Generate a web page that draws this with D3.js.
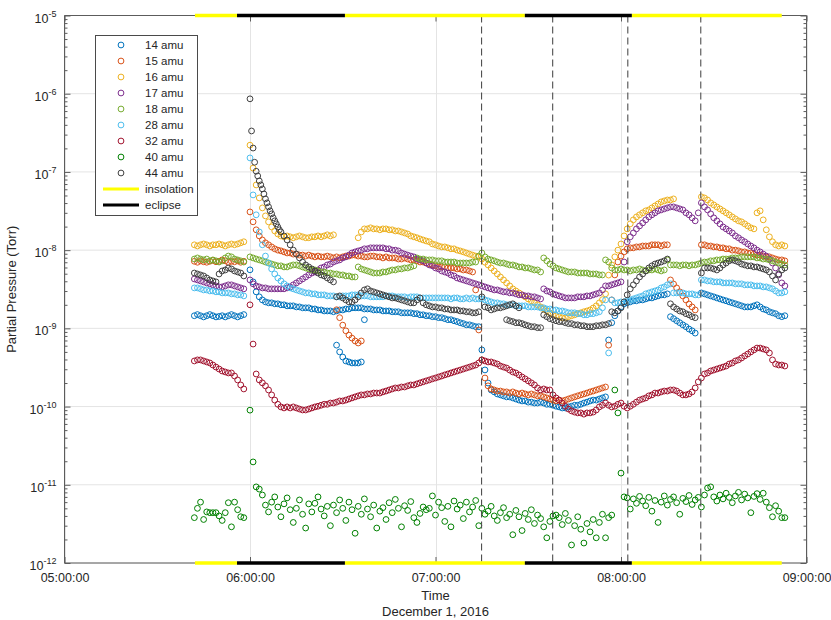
<!DOCTYPE html>
<html>
<head>
<meta charset="utf-8">
<script src="https://cdn.jsdelivr.net/npm/d3@7"></script>
<style>
  html, body { margin: 0; padding: 0; background: #ffffff; }
  svg text { font-family: "Liberation Sans", Arial, Helvetica, sans-serif; fill: #262626; }
</style>
</head>
<body>
<svg id="chart" width="831" height="620"></svg>
<script>
// ---------------- data ----------------
const chartDate = "2016-12-01";
const axisStart = "05:00";
const axisEnd = "09:00";
const hourTicks = ["05:00", "06:00", "07:00", "08:00", "09:00"];
const decadeTicks = [1e-12, 1e-11, 1e-10, 1e-9, 1e-8, 1e-7, 1e-6, 1e-5];
const decadeExponents = ["-12", "-11", "-10", "-9", "-8", "-7", "-6", "-5"];
const seriesNames = ["14 amu", "15 amu", "16 amu", "17 amu", "18 amu", "28 amu", "32 amu", "40 amu", "44 amu"];

// sun / shadow intervals of the orbit
const insolation = [["05:42:12", "05:55:48"], ["06:30:42", "07:28:54"], ["08:03:30", "08:52:00"]];
const eclipse = [["05:55:48", "06:30:42"], ["07:28:54", "08:03:30"]];
// marked events
const eventTimes = ["07:14:54", "07:37:54", "08:02:12", "08:25:48"];

// Each series is a list of sampled runs: start time, sample step (minutes, default 1), pressures in Torr.
const amu14 = [
  {start: "05:42", values: [1.45e-9,1.5e-9,1.45e-9,1.4e-9,1.45e-9,1.5e-9,1.45e-9,1.4e-9,1.42e-9,1.45e-9,1.4e-9,1.45e-9,1.5e-9,1.45e-9,1.4e-9,1.45e-9,1.5e-9]},
  {start: "06:00", values: [
    5.6e-9,3.93e-9,2.93e-9,2.53e-9,2.31e-9,2.18e-9,2.12e-9,2.12e-9,2.06e-9,2.06e-9,2.0e-9,2.0e-9,1.94e-9,1.94e-9,1.94e-9,1.88e-9,1.88e-9,1.83e-9,1.83e-9,1.83e-9,1.77e-9,1.77e-9,1.72e-9,1.72e-9,1.67e-9,1.67e-9,1.67e-9,1.63e-9,
    1.67e-9,1.72e-9,1.72e-9,1.77e-9,1.77e-9,1.83e-9,1.83e-9,1.83e-9,1.83e-9,1.77e-9,1.77e-9,1.77e-9,1.72e-9,1.72e-9,1.72e-9,1.67e-9,1.67e-9,1.67e-9,1.63e-9,1.63e-9,1.63e-9,1.58e-9,1.58e-9,1.58e-9,1.58e-9,1.54e-9,1.54e-9,1.49e-9,1.49e-9,1.45e-9,1.45e-9,1.41e-9,1.41e-9,1.37e-9,1.37e-9,1.33e-9,1.29e-9,1.29e-9,1.25e-9,1.22e-9,1.18e-9,1.15e-9,1.11e-9,1.11e-9,1.08e-9,1.05e-9,1.05e-9,
    5.3e-10,2.94e-10,2.0e-10,1.63e-10,1.54e-10,1.45e-10,1.41e-10,1.37e-10,1.33e-10,1.33e-10,1.29e-10,1.25e-10,1.21e-10,1.18e-10,1.18e-10,1.14e-10,1.14e-10,1.11e-10,1.11e-10,1.14e-10,1.11e-10,1.07e-10,1.07e-10,1.04e-10,1.01e-10,9.9e-11,9.6e-11,9.6e-11,9.9e-11,1.01e-10,1.04e-10,1.04e-10,1.07e-10,1.11e-10,1.14e-10,1.18e-10,1.21e-10,1.21e-10,1.25e-10,1.29e-10,1.33e-10,
    7.1e-10,1.18e-9,1.45e-9,1.67e-9,1.88e-9,2.06e-9,2.12e-9,2.18e-9,2.25e-9,2.25e-9,2.31e-9,2.31e-9,2.38e-9,2.45e-9,2.45e-9,2.53e-9,2.6e-9,2.68e-9,2.68e-9,2.76e-9,
    1.41e-9,1.33e-9,1.25e-9,1.18e-9,1.11e-9,1.05e-9,9.8e-10,9.3e-10,8.7e-10]},
  {start: "08:26", values: [2.84e-9,2.76e-9,2.68e-9,2.6e-9,2.53e-9,2.45e-9,2.38e-9,2.31e-9,2.25e-9,2.18e-9,2.12e-9,2.06e-9,2.0e-9,1.94e-9,1.88e-9,1.88e-9,1.88e-9,1.94e-9,2.0e-9,1.88e-9,1.77e-9,1.72e-9,1.63e-9,1.58e-9,1.54e-9,1.45e-9,1.41e-9,1.45e-9]},
  {start: "06:28", values: [6.1e-10,5.0e-10,4.3e-10,3.83e-10,3.72e-10,3.61e-10,3.61e-10,3.61e-10,3.72e-10,1.29e-9]}
];

const amu15 = [
  {start: "05:42", values: [7.2e-9,7.0e-9,7.3e-9,7.1e-9,7.0e-9,7.2e-9,7.4e-9,7.1e-9,7.2e-9,7.5e-9,7.3e-9,7.0e-9,7.2e-9,7.1e-9,7.3e-9,7.0e-9,7.2e-9]},
  {start: "06:00", values: [
    3.08e-8,2.3e-8,1.82e-8,1.52e-8,1.35e-8,1.24e-8,1.17e-8,1.1e-8,1.04e-8,1.0e-8,
    9.8e-9,9.5e-9,9.2e-9,9.2e-9,8.9e-9,8.9e-9,8.65e-9,8.65e-9,8.4e-9,8.65e-9,8.4e-9,8.2e-9,8.4e-9,8.2e-9,8.2e-9,8.4e-9,8.2e-9,7.95e-9,
    8.2e-9,7.95e-9,8.2e-9,8.4e-9,8.4e-9,8.65e-9,8.65e-9,8.4e-9,8.4e-9,8.2e-9,8.2e-9,8.4e-9,8.4e-9,8.2e-9,8.2e-9,7.95e-9,8.2e-9,7.95e-9,7.95e-9,7.95e-9,7.7e-9,7.7e-9,7.95e-9,
    7.7e-9,7.5e-9,7.5e-9,7.3e-9,7.05e-9,7.05e-9,6.85e-9,6.65e-9,6.47e-9,6.3e-9,6.1e-9,6.1e-9,6.1e-9,5.92e-9,5.92e-9,5.92e-9,5.75e-9,5.75e-9,5.58e-9,5.58e-9,5.42e-9,5.26e-9,
    3.1e-9,9.54e-10,3.95e-10,2.32e-10,1.84e-10,
    1.68e-10,1.63e-10,1.58e-10,1.58e-10,1.54e-10,1.54e-10,1.49e-10,1.54e-10,1.49e-10,1.45e-10,1.49e-10,1.45e-10,1.41e-10,1.45e-10,1.41e-10,1.37e-10,1.37e-10,1.33e-10,1.29e-10,1.25e-10,1.21e-10,1.18e-10,1.21e-10,1.18e-10,1.21e-10,1.25e-10,1.29e-10,1.33e-10,1.37e-10,1.41e-10,1.45e-10,1.49e-10,1.54e-10,1.58e-10,1.63e-10,1.68e-10,1.73e-10,1.78e-10,
    6.1e-10,2.31e-9,4.82e-9,7.05e-9,8.4e-9,9.5e-9,1.04e-8,
    1.07e-8,1.07e-8,1.1e-8,1.1e-8,1.13e-8,1.13e-8,1.13e-8,1.17e-8,1.17e-8,1.17e-8,1.13e-8,1.17e-8,1.17e-8,
    4.16e-9,3.69e-9,3.29e-9,2.93e-9,2.6e-9,2.31e-9,2.05e-9,1.88e-9,1.72e-9]},
  {start: "08:26", values: [1.17e-8,1.17e-8,1.13e-8,1.13e-8,1.1e-8,1.1e-8,1.07e-8,1.07e-8,1.04e-8,1.04e-8,1.0e-8,1.0e-8,9.8e-9,9.5e-9,9.5e-9,9.2e-9,9.2e-9,8.9e-9,8.65e-9,8.65e-9,8.4e-9,8.2e-9,8.2e-9,7.95e-9,7.7e-9,7.5e-9,7.5e-9,7.3e-9]},
  {start: "06:28", values: [1.73e-9,1.37e-9,1.1e-9,9.3e-10,8.2e-10,7.5e-10,6.9e-10,6.5e-10,6.9e-10]}
];

const amu16 = [
  {start: "05:42", values: [1.17e-8,1.13e-8,1.17e-8,1.2e-8,1.17e-8,1.13e-8,1.17e-8,1.17e-8,1.2e-8,1.17e-8,1.13e-8,1.17e-8,1.2e-8,1.17e-8,1.2e-8,1.24e-8,1.28e-8]},
  {start: "06:00", values: [
    2.2e-7,1.12e-7,6.82e-8,4.65e-8,3.47e-8,2.74e-8,2.3e-8,1.98e-8,1.76e-8,1.61e-8,1.52e-8,
    1.48e-8,1.52e-8,1.48e-8,1.44e-8,1.48e-8,1.52e-8,1.48e-8,1.44e-8,1.44e-8,1.48e-8,1.48e-8,1.52e-8,1.48e-8,1.52e-8,1.57e-8,1.52e-8,1.57e-8]},
  {start: "06:35", values: [
    1.44e-8,1.71e-8,
    1.87e-8,1.87e-8,1.93e-8,1.87e-8,1.87e-8,1.82e-8,1.87e-8,1.87e-8,1.82e-8,1.82e-8,1.76e-8,1.76e-8,1.71e-8,1.66e-8,
    1.61e-8,1.52e-8,1.48e-8,1.44e-8,1.39e-8,1.35e-8,1.31e-8,1.28e-8,1.2e-8,1.17e-8,1.13e-8,1.1e-8,1.1e-8,1.07e-8,1.04e-8,1.04e-8,1.0e-8,9.77e-9,9.5e-9,9.2e-9,8.9e-9,8.65e-9,8.4e-9,8.2e-9,
    7.7e-9,7.0e-9,6.47e-9,5.92e-9,5.42e-9,4.96e-9,4.54e-9,4.16e-9,3.81e-9,3.49e-9,3.2e-9,3.01e-9,2.84e-9,2.68e-9,2.53e-9,2.38e-9,2.25e-9,2.12e-9,2.0e-9,1.88e-9,1.77e-9,1.67e-9,1.58e-9,1.49e-9,1.45e-9,1.41e-9,1.36e-9,1.36e-9,1.41e-9,1.45e-9,1.49e-9,1.54e-9,1.58e-9,1.63e-9,1.67e-9,1.72e-9,1.82e-9,1.94e-9,2.12e-9,2.33e-9,2.76e-9,4.8e-9,6.47e-9,8.2e-9,
    1.0e-8,1.2e-8,1.52e-8,1.87e-8,2.17e-8,2.44e-8,2.66e-8,2.83e-8,3.0e-8,3.18e-8,3.27e-8,3.47e-8,3.68e-8,3.9e-8,4.14e-8,4.26e-8,4.38e-8,4.38e-8,4.52e-8]},
  {start: "08:26", values: [4.8e-8,4.65e-8,4.38e-8,4.02e-8,3.79e-8,3.57e-8,3.37e-8,3.18e-8,3.0e-8,2.83e-8,2.66e-8,2.51e-8,2.37e-8,2.3e-8,2.17e-8,2.04e-8,1.93e-8,
    1.87e-8,3.0e-8,3.18e-8,2.44e-8,1.82e-8,1.48e-8,1.28e-8,1.17e-8,1.13e-8,1.17e-8,1.13e-8]}
];

const amu17 = [
  {start: "05:42", values: [4.28e-9,4.16e-9,4.04e-9,3.93e-9,3.81e-9,3.71e-9,3.6e-9,3.49e-9,3.39e-9,3.39e-9,3.49e-9,3.6e-9,3.6e-9,3.49e-9,3.39e-9,3.29e-9,3.2e-9]},
  {start: "06:00", values: [
    4.16e-9,3.71e-9,3.49e-9,3.39e-9,3.29e-9,3.29e-9,3.2e-9,3.2e-9,3.2e-9,3.2e-9,3.2e-9,3.2e-9,
    3.29e-9,3.39e-9,3.6e-9,3.81e-9,4.04e-9,4.28e-9,4.54e-9,4.82e-9,5.1e-9,5.26e-9,5.58e-9,5.92e-9,6.1e-9,6.47e-9,6.65e-9,7.05e-9,7.3e-9,7.5e-9,7.95e-9,8.2e-9,8.65e-9,9.2e-9,9.5e-9,9.77e-9,
    1.0e-8,1.04e-8,1.04e-8,1.07e-8,1.07e-8,1.07e-8,1.07e-8,1.07e-8,1.04e-8,1.04e-8,1.0e-8,1.0e-8,
    9.77e-9,9.2e-9,8.9e-9,8.65e-9,8.4e-9,8.2e-9,7.7e-9,7.5e-9,7.3e-9,6.85e-9,6.47e-9,6.3e-9,5.92e-9,5.75e-9,5.42e-9,5.26e-9,5.1e-9,4.82e-9,4.68e-9,4.41e-9,4.28e-9,4.16e-9,4.04e-9,3.93e-9,3.81e-9,3.71e-9,3.6e-9,
    3.49e-9,3.39e-9,3.29e-9,3.2e-9,3.1e-9,3.1e-9,3.01e-9,2.93e-9,2.93e-9,2.84e-9,2.84e-9,2.76e-9,2.68e-9,2.68e-9,2.6e-9,2.6e-9,2.53e-9,2.53e-9,2.45e-9,2.38e-9,
    3.2e-9,3.01e-9,2.93e-9,2.76e-9,2.68e-9,2.6e-9,2.53e-9,2.45e-9,2.45e-9,2.45e-9,2.45e-9,2.53e-9,2.53e-9,2.53e-9,2.6e-9,2.6e-9,2.68e-9,2.76e-9,2.84e-9,3.1e-9,3.49e-9,3.49e-9,3.6e-9,3.71e-9,3.81e-9,3.93e-9,
    7.05e-9,
    1.28e-8,1.48e-8,1.66e-8,1.87e-8,2.04e-8,2.23e-8,2.44e-8,2.66e-8,2.83e-8,3.0e-8,3.18e-8,3.27e-8,3.37e-8,3.47e-8,3.57e-8,3.57e-8,3.47e-8,3.37e-8,3.27e-8,3.0e-8,2.83e-8,2.59e-8,2.37e-8,3.0e-8,
    4.02e-8,3.57e-8,3.27e-8,2.91e-8,2.59e-8,2.37e-8,2.17e-8,1.98e-8,1.87e-8,1.76e-8,1.66e-8,1.52e-8,1.44e-8,1.35e-8,1.28e-8,1.2e-8,1.13e-8,1.07e-8,
    1.0e-8,
    9.5e-9,8.9e-9,8.4e-9,7.7e-9,6.85e-9,5.92e-9,4.82e-9,3.81e-9,3.49e-9]}
];

const amu18 = [
  {start: "05:42", values: [7.7e-9,7.95e-9,7.7e-9,7.5e-9,7.7e-9,7.3e-9,7.5e-9,7.3e-9,7.05e-9,7.3e-9,7.95e-9,8.4e-9,8.2e-9,7.7e-9,7.5e-9,7.3e-9,7.05e-9]},
  {start: "06:00", values: [
    8.2e-9,7.95e-9,7.7e-9,7.5e-9,7.3e-9,7.05e-9,6.85e-9,6.65e-9,6.47e-9,6.3e-9,6.3e-9,6.1e-9,6.1e-9,6.3e-9,6.47e-9,6.47e-9,6.3e-9,6.1e-9,5.92e-9,5.75e-9,5.58e-9,5.58e-9,5.42e-9,5.26e-9,5.26e-9,5.1e-9,5.1e-9,4.96e-9,4.96e-9,4.82e-9,4.82e-9,4.68e-9,4.68e-9,4.54e-9,4.54e-9,
    6.1e-9,5.75e-9,5.58e-9,5.42e-9,5.26e-9,5.1e-9,5.1e-9,5.1e-9,5.26e-9,5.26e-9,5.42e-9,5.58e-9,5.58e-9,5.75e-9,5.75e-9,5.92e-9,5.92e-9,6.1e-9,6.3e-9,
    7.95e-9,7.7e-9,7.7e-9,7.5e-9,7.5e-9,7.5e-9,7.3e-9,7.3e-9,7.3e-9,7.05e-9,7.05e-9,7.05e-9,7.05e-9,6.85e-9,6.85e-9,6.85e-9,6.85e-9,6.85e-9,7.05e-9,7.05e-9,
    8.4e-9,9.2e-9,8.2e-9,7.7e-9,7.5e-9,7.3e-9,7.05e-9,6.85e-9,6.85e-9,6.65e-9,6.47e-9,6.47e-9,6.3e-9,6.1e-9,6.1e-9,5.92e-9,5.92e-9,5.75e-9,5.58e-9,5.58e-9,5.26e-9,
    7.95e-9,7.3e-9,6.65e-9,6.3e-9,5.92e-9,5.75e-9,5.58e-9,5.42e-9,5.26e-9,5.26e-9,5.26e-9,5.1e-9,5.1e-9,5.1e-9,5.1e-9,4.96e-9,4.96e-9,4.96e-9,4.82e-9,4.82e-9,
    7.5e-9,7.05e-9,5.92e-9,5.58e-9,5.58e-9,5.75e-9,5.58e-9,5.58e-9,5.42e-9,5.58e-9,5.58e-9,5.75e-9,5.58e-9,5.42e-9,5.58e-9,5.58e-9,5.75e-9,5.58e-9,5.42e-9,5.58e-9,
    7.5e-9,6.47e-9,6.47e-9,6.47e-9,6.3e-9,6.47e-9,6.47e-9,6.3e-9,6.47e-9,6.47e-9,6.65e-9,
    6.85e-9,7.05e-9,7.05e-9,7.3e-9,7.3e-9,7.5e-9,7.5e-9,7.7e-9,7.7e-9,7.7e-9,7.95e-9,7.95e-9,7.95e-9,8.2e-9,8.2e-9,8.2e-9,8.2e-9,8.2e-9,7.95e-9,7.95e-9,7.7e-9,7.7e-9,7.5e-9,7.3e-9,7.05e-9,6.85e-9,6.65e-9,6.47e-9]}
];

const amu28 = [
  {start: "05:42", values: [3.29e-9,3.29e-9,3.2e-9,3.1e-9,3.1e-9,3.01e-9,3.01e-9,2.93e-9,2.93e-9,2.84e-9,2.84e-9,2.84e-9,2.76e-9,2.76e-9,2.68e-9,2.68e-9,2.6e-9]},
  {start: "06:00", values: [
    1.51e-7,5.08e-8,2.83e-8,1.71e-8,1.17e-8,8.4e-9,6.85e-9,5.75e-9,4.96e-9,4.41e-9,4.04e-9,3.71e-9,3.49e-9,3.29e-9,3.2e-9,3.1e-9,3.01e-9,2.93e-9,2.84e-9,2.84e-9,2.76e-9,
    2.76e-9,2.68e-9,2.68e-9,2.68e-9,2.6e-9,2.6e-9,2.6e-9,2.53e-9,2.53e-9,2.6e-9,2.6e-9,2.6e-9,2.68e-9,2.68e-9,2.68e-9,2.6e-9,2.6e-9,2.6e-9,2.53e-9,2.53e-9,2.53e-9,2.53e-9,2.53e-9,2.6e-9,2.6e-9,2.6e-9,2.53e-9,2.53e-9,2.53e-9,2.53e-9,
    2.45e-9,2.53e-9,2.53e-9,2.53e-9,2.45e-9,2.45e-9,2.45e-9,2.45e-9,2.45e-9,2.45e-9,2.45e-9,2.45e-9,2.45e-9,2.45e-9,2.38e-9,2.45e-9,2.45e-9,2.38e-9,2.38e-9,2.45e-9,2.38e-9,2.45e-9,2.38e-9,2.38e-9,
    2.38e-9,2.31e-9,2.25e-9,2.18e-9,2.12e-9,2.12e-9,2.06e-9,2.06e-9,2.0e-9,2.0e-9,2.0e-9,1.94e-9,1.94e-9,1.94e-9,1.94e-9,1.88e-9,1.88e-9,1.88e-9,1.88e-9,1.83e-9,1.83e-9,1.77e-9,1.77e-9,1.72e-9,1.72e-9,1.67e-9,1.67e-9,1.63e-9,1.58e-9,1.58e-9,1.58e-9,1.54e-9,1.54e-9,1.49e-9,1.49e-9,1.54e-9,1.54e-9,1.58e-9,1.63e-9,1.83e-9,2.31e-9,
    4.85e-10,
    2.31e-9,2.12e-9,2.12e-9,2.18e-9,2.18e-9,2.25e-9,2.31e-9,2.38e-9,2.45e-9,2.53e-9,2.6e-9,2.76e-9,2.84e-9,2.93e-9,3.01e-9,3.1e-9,3.29e-9,3.39e-9,3.6e-9,3.71e-9,
    2.84e-9,2.84e-9,2.84e-9,2.84e-9,2.76e-9,2.76e-9,2.76e-9,2.68e-9,2.68e-9,
    4.16e-9,4.16e-9,4.04e-9,4.04e-9,3.93e-9,3.93e-9,3.93e-9,3.81e-9,3.81e-9,3.81e-9,3.81e-9,3.71e-9,3.71e-9,3.71e-9,3.6e-9,3.6e-9,3.6e-9,3.49e-9,3.49e-9,3.49e-9,3.39e-9,3.39e-9,3.29e-9,3.2e-9,3.01e-9,2.84e-9,2.84e-9,2.93e-9]}
];

const amu32 = [
  {start: "05:42", values: [3.83e-10,3.95e-10,3.95e-10,3.83e-10,3.72e-10,3.61e-10,3.4e-10,3.2e-10,3.02e-10,2.85e-10,2.77e-10,2.69e-10,2.69e-10,2.46e-10,2.19e-10,1.89e-10,1.68e-10]},
  {start: "06:00", values: [
    2.0e-9,6.3e-10,
    2.61e-10,2.19e-10,2.01e-10,1.84e-10,1.63e-10,1.41e-10,1.21e-10,1.07e-10,
    9.9e-11,9.6e-11,9.9e-11,9.6e-11,9.9e-11,9.6e-11,9.3e-11,9.05e-11,9.05e-11,9.3e-11,9.6e-11,9.9e-11,1.01e-10,1.04e-10,1.07e-10,1.07e-10,1.11e-10,1.11e-10,1.14e-10,1.18e-10,1.18e-10,1.21e-10,1.25e-10,1.29e-10,1.33e-10,1.37e-10,1.41e-10,
    1.41e-10,1.45e-10,1.45e-10,1.49e-10,1.49e-10,1.49e-10,1.54e-10,1.58e-10,1.63e-10,1.68e-10,1.73e-10,1.73e-10,1.78e-10,1.78e-10,1.84e-10,1.89e-10,1.89e-10,1.95e-10,2.01e-10,2.07e-10,2.13e-10,2.19e-10,2.26e-10,2.32e-10,2.39e-10,2.46e-10,2.54e-10,2.61e-10,2.69e-10,2.77e-10,2.85e-10,2.93e-10,3.02e-10,3.11e-10,3.2e-10,3.3e-10,3.4e-10,3.61e-10,
    3.95e-10,3.83e-10,3.72e-10,3.72e-10,3.61e-10,3.5e-10,3.3e-10,3.2e-10,3.11e-10,2.93e-10,2.77e-10,2.69e-10,2.54e-10,2.39e-10,2.26e-10,2.13e-10,2.01e-10,1.89e-10,1.73e-10,1.63e-10,1.68e-10,1.63e-10,1.63e-10,1.41e-10,1.29e-10,1.21e-10,1.11e-10,1.01e-10,9.3e-11,8.8e-11,8.5e-11,8.3e-11,8.3e-11,8.0e-11,8.3e-11,8.3e-11,8.5e-11,9.05e-11,9.9e-11,1.04e-10,1.11e-10,
    1.04e-10,9.9e-11,1.01e-10,1.07e-10,1.11e-10,1.01e-10,9.6e-11,1.01e-10,1.07e-10,1.14e-10,1.21e-10,1.25e-10,1.29e-10,1.37e-10,1.41e-10,1.49e-10,1.49e-10,1.54e-10,1.58e-10,1.58e-10,1.63e-10,1.63e-10,1.58e-10,1.49e-10,1.41e-10,1.41e-10,1.45e-10,1.54e-10,1.73e-10,2.07e-10,
    2.32e-10,2.61e-10,2.69e-10,2.85e-10,2.93e-10,3.02e-10,3.11e-10,3.2e-10,3.3e-10,3.5e-10,3.61e-10,3.83e-10,3.95e-10,4.18e-10,4.44e-10,4.7e-10,5.0e-10,5.3e-10,5.6e-10,5.6e-10,5.45e-10,5.3e-10,4.85e-10,3.95e-10,3.5e-10,3.4e-10,3.4e-10,3.3e-10]}
];

const amu40 = [
  {start: "05:42", values: [3.8e-12,5.0e-12,6.0e-12,3.6e-12,4.5e-12,4.4e-12,4.4e-12,4.4e-12,4.0e-12,3.5e-12,4.4e-12,5.9e-12,2.9e-12,6.0e-12,4.8e-12,3.9e-12,3.8e-12]},
  {start: "06:00", values: [
    9.0e-11,1.96e-11,
    9.4e-12,8.8e-12,7.4e-12,5.5e-12,4.5e-12,6.0e-12,7.0e-12,5.2e-12,3.9e-12,5.7e-12,
    6.8e-12,4.8e-12,3.3e-12,5.0e-12,6.4e-12,4.2e-12,2.8e-12,5.7e-12,4.5e-12,5.8e-12,
    7.0e-12,4.9e-12,4.0e-12,5.3e-12,3.0e-12,5.5e-12,4.4e-12,6.4e-12,5.0e-12,3.5e-12,
    6.0e-12,4.8e-12,2.4e-12,5.3e-12,4.2e-12,6.6e-12,4.9e-12,3.9e-12,5.5e-12,2.8e-12,
    4.6e-12,5.1e-12,3.6e-12,5.9e-12,4.4e-12,6.5e-12,5.0e-12,2.9e-12,5.4e-12,4.7e-12,
    6.1e-12,3.8e-12,3.3e-12,4.3e-12,5.2e-12,4.8e-12,5.0e-12,7.2e-12,4.1e-12,6.0e-12,
    5.1e-12,3.4e-12,5.3e-12,2.9e-12,6.2e-12,4.9e-12,5.5e-12,3.7e-12,6.0e-12,4.5e-12,
    5.2e-12,6.3e-12,3.0e-12,
    5.0e-12,4.2e-12,4.6e-12,5.3e-12,4.0e-12,3.5e-12,4.4e-12,5.1e-12,3.8e-12,4.2e-12,
    2.3e-12,4.7e-12,3.9e-12,2.6e-12,4.3e-12,3.6e-12,4.8e-12,3.2e-12,4.1e-12,3.7e-12,
    2.9e-12,2.1e-12,3.4e-12,4.0e-12,4.1e-12,3.8e-12,3.1e-12,4.3e-12,3.5e-12,1.7e-12,
    3.0e-12,3.9e-12,2.7e-12,1.8e-12,3.2e-12,2.5e-12,3.6e-12,2.1e-12,3.3e-12,4.2e-12,
    2.1e-12,3.8e-12,4.1e-12,
    1.63e-10,8.3e-11,1.41e-11,
    7.0e-12,6.8e-12,4.9e-12,6.6e-12,5.8e-12,7.1e-12,6.2e-12,5.4e-12,6.9e-12,4.6e-12,
    6.3e-12,3.3e-12,6.0e-12,7.2e-12,5.5e-12,6.5e-12,7.0e-12,5.9e-12,4.2e-12,6.7e-12,
    6.1e-12,7.3e-12,5.6e-12,6.4e-12,6.9e-12,5.2e-12,7.4e-12,9.1e-12,9.4e-12,7.0e-12,
    6.2e-12,7.4e-12,6.6e-12,7.8e-12,6.9e-12,5.9e-12,7.2e-12,8.0e-12,6.4e-12,7.6e-12,
    6.8e-12,4.4e-12,7.1e-12,7.7e-12,6.5e-12,7.8e-12,6.0e-12,5.1e-12,3.9e-12,5.4e-12,
    4.6e-12,3.8e-12,3.8e-12]}
];

const amu44 = [
  {start: "05:42", values: [5.1e-9,4.96e-9,4.82e-9,4.68e-9,4.41e-9,4.16e-9,4.04e-9,3.93e-9,4.96e-9,5.42e-9,5.58e-9,5.92e-9,5.75e-9,5.42e-9,5.26e-9,5.1e-9,4.68e-9]},
  {start: "06:00", step: 0.5, values: [8.6e-7,3.34e-7,2.02e-7,1.33e-7,1.02e-7,8.89e-8,7.67e-8,6.82e-8,6.06e-8,5.23e-8,4.52e-8,4.02e-8,3.57e-8,3.18e-8,2.91e-8,2.59e-8,2.37e-8,2.17e-8,1.98e-8,1.82e-8,1.71e-8]},
  {start: "06:11", values: [
    1.52e-8,1.35e-8,1.17e-8,1.0e-8,8.9e-9,7.95e-9,7.05e-9,6.47e-9,6.1e-9,5.75e-9,5.42e-9,5.1e-9,4.82e-9,4.68e-9,4.41e-9,4.16e-9,3.93e-9,
    2.53e-9,2.6e-9,2.45e-9,2.31e-9,2.18e-9,2.18e-9,2.31e-9,2.53e-9,2.84e-9,3.1e-9,3.2e-9,3.01e-9,2.93e-9,2.84e-9,2.76e-9,2.68e-9,2.6e-9,2.53e-9,2.45e-9,2.45e-9,2.38e-9,2.31e-9,2.25e-9,2.18e-9,2.12e-9,2.12e-9,2.31e-9,2.45e-9,2.12e-9,2.0e-9,1.94e-9,1.88e-9,1.88e-9,1.83e-9,1.83e-9,1.77e-9,1.77e-9,1.72e-9,1.72e-9,1.72e-9,1.67e-9,1.67e-9,1.63e-9,1.63e-9,1.58e-9,1.58e-9,1.63e-9,
    2.53e-9,1.88e-9,1.83e-9,1.72e-9,1.77e-9,1.83e-9,1.83e-9,1.88e-9,1.94e-9,2.0e-9,2.06e-9,1.94e-9,1.83e-9]},
  {start: "07:23", values: [1.29e-9,1.25e-9,1.22e-9,1.18e-9,1.18e-9,1.15e-9,1.11e-9,1.08e-9,1.05e-9,1.05e-9,1.02e-9,1.02e-9]},
  {start: "07:35", values: [
    1.49e-9,1.41e-9,1.33e-9,1.29e-9,1.25e-9,1.22e-9,1.22e-9,1.18e-9,1.15e-9,1.15e-9,1.11e-9,1.11e-9,1.08e-9,1.08e-9,1.05e-9,1.05e-9,1.05e-9,1.08e-9,1.08e-9,1.11e-9,1.11e-9,1.15e-9,
    1.63e-9,1.58e-9,1.67e-9,1.83e-9,2.18e-9,2.68e-9,3.2e-9,3.6e-9,4.04e-9,4.54e-9,4.96e-9,5.42e-9,5.92e-9,6.3e-9,6.65e-9,6.85e-9,7.05e-9,7.3e-9,7.7e-9,
    2.06e-9,1.88e-9,1.77e-9,1.67e-9,1.63e-9,1.54e-9,1.49e-9,1.41e-9,1.37e-9]},
  {start: "08:26", values: [5.1e-9,5.92e-9,5.92e-9,5.92e-9,5.75e-9,5.58e-9,5.92e-9,6.47e-9,6.85e-9,7.3e-9,7.5e-9,7.3e-9,7.05e-9,6.65e-9,6.47e-9,6.3e-9,6.3e-9,6.1e-9,6.1e-9,5.92e-9,5.75e-9,5.58e-9,5.26e-9,4.68e-9,4.16e-9,4.96e-9,5.58e-9,5.92e-9]}
];

const seriesData = [amu14, amu15, amu16, amu17, amu18, amu28, amu32, amu40, amu44];

// ---------------- drawing ----------------
const seriesColors = ["#0072BD", "#D95319", "#EDB120", "#7E2F8E", "#77AC30", "#4DBEEE", "#A2142F", "#008000", "#404040"];
const insolationColor = "#FFFF00";
const eclipseColor = "#000000";
const axisColor = "#5c5c5c";
const gridColor = "#e4e4e4";
const markerRadius = 2.9;

const plot = {left: 64.5, right: 806.5, top: 15.5, bottom: 563};

const parseTime = d3.timeParse("%Y-%m-%d %H:%M:%S");
function toDate(hm) {
  const s = hm.length === 5 ? hm + ":00" : hm;
  return parseTime(chartDate + " " + s);
}

const x = d3.scaleTime().domain([toDate(axisStart), toDate(axisEnd)]).range([plot.left, plot.right]);
const y = d3.scaleLog().domain([1e-12, 1e-5]).range([plot.bottom, plot.top]);

const svg = d3.select("#chart");
svg.append("rect").attr("width", 831).attr("height", 620).attr("fill", "#ffffff");

// grid
const hourDates = hourTicks.map(toDate);
const grid = svg.append("g").attr("stroke", gridColor).attr("stroke-width", 1);
grid.selectAll("line.gx").data(hourDates).join("line")
  .attr("x1", d => Math.round(x(d)) + 0.5).attr("x2", d => Math.round(x(d)) + 0.5)
  .attr("y1", plot.top).attr("y2", plot.bottom);
grid.selectAll("line.gy").data(decadeTicks).join("line")
  .attr("x1", plot.left).attr("x2", plot.right)
  .attr("y1", d => y(d)).attr("y2", d => y(d));

// scatter
function expand(segments) {
  const pts = [];
  segments.forEach(seg => {
    const t0 = +toDate(seg.start);
    const stepMs = (seg.step || 1) * 60000;
    seg.values.forEach((v, i) => {
      if (v != null) pts.push({t: new Date(t0 + i * stepMs), v: v});
    });
  });
  return pts;
}

const marks = svg.append("g");
seriesData.forEach((segs, k) => {
  marks.append("g")
    .attr("fill", "none")
    .attr("stroke", seriesColors[k])
    .attr("stroke-width", 1)
    .selectAll("circle").data(expand(segs)).join("circle")
    .attr("cx", d => x(d.t))
    .attr("cy", d => y(d.v))
    .attr("r", markerRadius);
});

// event markers
svg.append("g").selectAll("line").data(eventTimes.map(toDate)).join("line")
  .attr("x1", d => x(d)).attr("x2", d => x(d))
  .attr("y1", plot.top).attr("y2", plot.bottom)
  .attr("stroke", "#4f4f4f").attr("stroke-width", 1.1)
  .attr("stroke-dasharray", "7,4");

// axes (ticks inside the box)
const xBottom = d3.axisBottom(x).tickValues(hourDates).tickFormat(d3.timeFormat("%H:%M:%S"))
  .tickSizeInner(-6).tickSizeOuter(0).tickPadding(10);
const gxb = svg.append("g").attr("transform", `translate(0,${plot.bottom})`).call(xBottom);
const xTop = d3.axisTop(x).tickValues(hourDates).tickFormat("").tickSizeInner(-6).tickSizeOuter(0);
const gxt = svg.append("g").attr("transform", `translate(0,${plot.top})`).call(xTop);

const minorTicks = [];
decadeTicks.slice(0, -1).forEach(d => { for (let m = 2; m <= 9; m++) minorTicks.push(d * m); });

const yLeft = d3.axisLeft(y).tickValues(decadeTicks).tickFormat("").tickSizeInner(-6).tickSizeOuter(0);
const gyl = svg.append("g").attr("transform", `translate(${plot.left},0)`).call(yLeft);
const yLeftMinor = d3.axisLeft(y).tickValues(minorTicks).tickFormat("").tickSizeInner(-3).tickSizeOuter(0);
const gylm = svg.append("g").attr("transform", `translate(${plot.left},0)`).call(yLeftMinor);
const yRight = d3.axisRight(y).tickValues(decadeTicks).tickFormat("").tickSizeInner(-6).tickSizeOuter(0);
const gyr = svg.append("g").attr("transform", `translate(${plot.right},0)`).call(yRight);
const yRightMinor = d3.axisRight(y).tickValues(minorTicks).tickFormat("").tickSizeInner(-3).tickSizeOuter(0);
const gyrm = svg.append("g").attr("transform", `translate(${plot.right},0)`).call(yRightMinor);

[gxb, gxt, gyl, gylm, gyr, gyrm].forEach(g => {
  g.select(".domain").remove();
  g.selectAll(".tick line").attr("stroke", axisColor);
});
gxb.selectAll(".tick text")
  .style("font-family", '"Liberation Sans", Arial, Helvetica, sans-serif')
  .attr("font-size", 12.5).attr("fill", "#262626");

// y tick labels as powers of ten
const yLabels = svg.append("g");
decadeTicks.forEach((d, i) => {
  const t = yLabels.append("text")
    .attr("x", plot.left - 8)
    .attr("y", y(d) + 7)
    .attr("text-anchor", "end")
    .attr("font-size", 12.5);
  t.append("tspan").text("10");
  t.append("tspan").attr("dy", -6).attr("font-size", 9).text(decadeExponents[i]);
});

// sun / shadow bars along the top and bottom edge
const bars = svg.append("g").attr("stroke-width", 3.5);
[[insolation, insolationColor], [eclipse, eclipseColor]].forEach(([spans, col]) => {
  [plot.top, plot.bottom].forEach(yy => {
    bars.append("g").attr("stroke", col).selectAll("line").data(spans).join("line")
      .attr("x1", d => x(toDate(d[0]))).attr("x2", d => x(toDate(d[1])))
      .attr("y1", yy).attr("y2", yy);
  });
});

// box
const box = svg.append("g").attr("stroke", axisColor).attr("stroke-width", 1).attr("fill", "none");
box.append("line").attr("x1", plot.left).attr("x2", plot.left).attr("y1", plot.top).attr("y2", plot.bottom);
box.append("line").attr("x1", plot.right).attr("x2", plot.right).attr("y1", plot.top).attr("y2", plot.bottom);
box.append("line").attr("x1", plot.left).attr("x2", x(toDate(insolation[0][0]))).attr("y1", plot.top).attr("y2", plot.top);
box.append("line").attr("x1", x(toDate(insolation[2][1]))).attr("x2", plot.right).attr("y1", plot.top).attr("y2", plot.top);
box.append("line").attr("x1", plot.left).attr("x2", x(toDate(insolation[0][0]))).attr("y1", plot.bottom).attr("y2", plot.bottom);
box.append("line").attr("x1", x(toDate(insolation[2][1]))).attr("x2", plot.right).attr("y1", plot.bottom).attr("y2", plot.bottom);

// axis titles
const midX = (plot.left + plot.right) / 2;
svg.append("text").attr("x", midX).attr("y", 600).attr("text-anchor", "middle").attr("font-size", 13).text("Time");
svg.append("text").attr("x", midX).attr("y", 616).attr("text-anchor", "middle").attr("font-size", 13).text("December 1, 2016");
svg.append("text")
  .attr("transform", `translate(16,${(plot.top + plot.bottom) / 2}) rotate(-90)`)
  .attr("text-anchor", "middle").attr("font-size", 13)
  .text("Partial Pressure (Torr)");

// legend
const legend = svg.append("g");
legend.append("rect").attr("x", 95.5).attr("y", 35.5).attr("width", 102).attr("height", 180)
  .attr("fill", "#ffffff").attr("stroke", "#4a4a4a").attr("stroke-width", 1);
const rowY = i => 45 + i * 16;
seriesNames.forEach((name, i) => {
  legend.append("circle").attr("cx", 121).attr("cy", rowY(i)).attr("r", markerRadius)
    .attr("fill", "none").attr("stroke", seriesColors[i]).attr("stroke-width", 1);
  legend.append("text").attr("x", 145).attr("y", rowY(i)).attr("dy", "0.35em")
    .attr("font-size", 11.5).text(name);
});
[["insolation", insolationColor], ["eclipse", eclipseColor]].forEach(([name, col], j) => {
  const i = seriesNames.length + j;
  legend.append("line").attr("x1", 103).attr("x2", 139).attr("y1", rowY(i)).attr("y2", rowY(i))
    .attr("stroke", col).attr("stroke-width", 3);
  legend.append("text").attr("x", 145).attr("y", rowY(i)).attr("dy", "0.35em")
    .attr("font-size", 11.5).text(name);
});
</script>
</body>
</html>
